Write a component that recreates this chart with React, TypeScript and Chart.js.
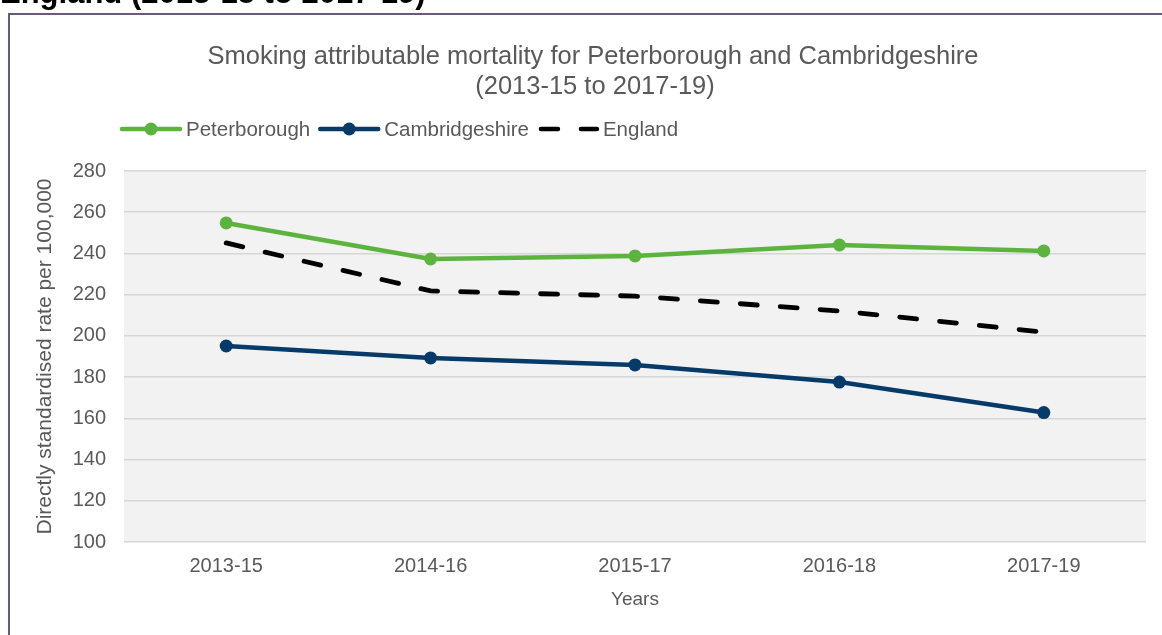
import React, { useEffect, useRef } from 'react';
import { Chart, registerables } from 'chart.js';

Chart.register(...registerables);

const categories = ['2013-15', '2014-16', '2015-17', '2016-18', '2017-19'];
const peterborough = [254.8, 237.3, 238.8, 244.1, 241.2];
const cambridgeshire = [195.1, 189.3, 185.9, 177.6, 162.8];
const england = [245.1, 221.8, 219.3, 212.1, 201.8];
const yMin = 100;
const yMax = 280;
const yStep = 20;
const titleLines = ['Smoking attributable mortality for Peterborough and Cambridgeshire', '(2013-15 to 2017-19)'];
const headingText = 'England (2013-15 to 2017-19)';
const yAxisTitle = 'Directly standardised rate per 100,000';
const xAxisTitle = 'Years';

const GREEN = '#5cb43f';
const BLUE = '#063a68';
const BLACK = '#000000';
const TEXT = '#595959';
const FONT = "'Liberation Sans', Arial, sans-serif";

const decorPlugin = {
  id: 'decor',
  beforeDraw(chart: any) {
    const { ctx, chartArea } = chart;
    ctx.save();
    ctx.fillStyle = '#ffffff';
    ctx.fillRect(0, 0, chart.width, chart.height);
    ctx.fillStyle = '#f2f2f2';
    ctx.fillRect(chartArea.left, chartArea.top, chartArea.right - chartArea.left, chartArea.bottom - chartArea.top);
    ctx.restore();
  },
  afterDraw(chart: any) {
    const { ctx } = chart;
    ctx.save();
    // heading (cut off at top)
    ctx.fillStyle = '#000000';
    ctx.font = `bold 31px ${FONT}`;
    ctx.textAlign = 'left';
    ctx.textBaseline = 'alphabetic';
    ctx.fillText(headingText, 0, 3);
    // border
    ctx.strokeStyle = '#6a5a78';
    ctx.lineWidth = 2;
    ctx.strokeRect(9, 14, 1300, 800);
    // title
    ctx.fillStyle = TEXT;
    ctx.font = `25.5px ${FONT}`;
    ctx.textAlign = 'center';
    ctx.textBaseline = 'middle';
    ctx.fillText(titleLines[0], 593, 57);
    ctx.fillText(titleLines[1], 595, 87);
    // legend
    const items = [
      { label: 'Peterborough', color: GREEN, dash: false },
      { label: 'Cambridgeshire', color: BLUE, dash: false },
      { label: 'England', color: BLACK, dash: true },
    ];
    ctx.font = `20.5px ${FONT}`;
    ctx.textAlign = 'left';
    let x = 120;
    const y = 129;
    items.forEach((it) => {
      ctx.strokeStyle = it.color;
      ctx.lineWidth = 4.5;
      ctx.lineCap = 'round';
      if (it.dash) {
        ctx.setLineDash([17, 23]);
        ctx.beginPath();
        ctx.moveTo(x + 4, y);
        ctx.lineTo(x + 60, y);
        ctx.stroke();
        ctx.setLineDash([]);
      } else {
        ctx.beginPath();
        ctx.moveTo(x + 2, y);
        ctx.lineTo(x + 60, y);
        ctx.stroke();
        ctx.fillStyle = it.color;
        ctx.beginPath();
        ctx.arc(x + 31, y, 6.5, 0, Math.PI * 2);
        ctx.fill();
      }
      ctx.fillStyle = TEXT;
      ctx.fillText(it.label, x + 66, y + 1);
      x += 66 + ctx.measureText(it.label).width + 8;
    });
    ctx.restore();
  },
};

export default function App() {
  const ref = useRef<HTMLCanvasElement | null>(null);
  useEffect(() => {
    document.body.style.margin = '0';
    const canvas = ref.current;
    if (!canvas) return;
    const chart = new Chart(canvas, {
      type: 'line',
      data: {
        labels: categories,
        datasets: [
          {
            label: 'Peterborough',
            data: peterborough,
            borderColor: GREEN,
            backgroundColor: GREEN,
            borderWidth: 4.5,
            pointRadius: 6.5,
            pointBackgroundColor: GREEN,
            pointBorderWidth: 0,
            tension: 0,
          },
          {
            label: 'Cambridgeshire',
            data: cambridgeshire,
            borderColor: BLUE,
            backgroundColor: BLUE,
            borderWidth: 4.5,
            pointRadius: 6.5,
            pointBackgroundColor: BLUE,
            pointBorderWidth: 0,
            tension: 0,
          },
          {
            label: 'England',
            data: england,
            borderColor: BLACK,
            backgroundColor: BLACK,
            borderWidth: 4.8,
            borderDash: [17, 23],
            borderCapStyle: 'round',
            pointRadius: 0,
            tension: 0,
          },
        ],
      },
      options: {
        animation: false,
        responsive: false,
        maintainAspectRatio: false,
        layout: { padding: { top: 171, left: 0, right: 16, bottom: 0 } },
        plugins: {
          legend: { display: false },
          title: { display: false },
          tooltip: { enabled: false },
        },
        scales: {
          x: {
            offset: true,
            grid: { display: false, drawTicks: false },
            border: { display: false },
            ticks: { color: TEXT, font: { family: FONT, size: 20 }, padding: 12, maxRotation: 0 },
            title: { display: true, text: xAxisTitle, color: TEXT, font: { family: FONT, size: 19 }, padding: { top: 0, bottom: 24 } },
            afterFit(scale: any) { scale.height = 93; },
          },
          y: {
            min: yMin,
            max: yMax,
            grid: { color: '#d6d6d6', lineWidth: 1.5, drawTicks: false },
            border: { display: false },
            ticks: { stepSize: yStep, color: TEXT, font: { family: FONT, size: 20 }, padding: 18 },
            title: { display: true, text: yAxisTitle, color: TEXT, font: { family: FONT, size: 21 }, padding: { top: 33, bottom: 0 } },
            afterFit(scale: any) { scale.width = 124; },
          },
        },
      },
      plugins: [decorPlugin],
    });
    return () => chart.destroy();
  }, []);
  return (
    <div style={{ position: 'fixed', left: 0, top: 0, width: 1162, height: 635 }}>
      <canvas ref={ref} width={1162} height={635} style={{ display: 'block', width: 1162, height: 635 }} />
    </div>
  );
}
